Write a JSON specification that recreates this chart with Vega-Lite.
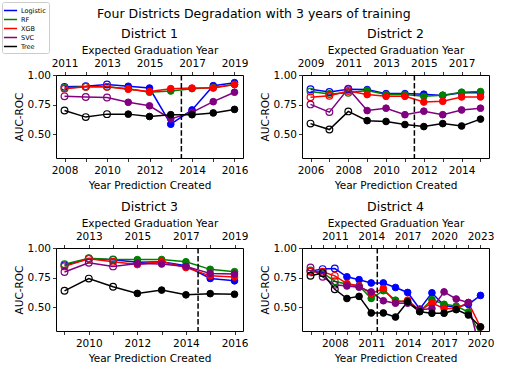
{
"$schema":"https://vega.github.io/schema/vega-lite/v6.json",
"padding":1,
"title":{"text":"Four Districts Degradation with 3 years of training","anchor":"middle","fontSize":12.5,"fontWeight":"normal","font":"DejaVu Sans","color":"black","offset":-19,"dx":6},
"datasets":{
"auc":[
{"d":1,"m":"Logistic","yr":2008,"auc":0.90},{"d":1,"m":"Logistic","yr":2009,"auc":0.905},{"d":1,"m":"Logistic","yr":2010,"auc":0.92},{"d":1,"m":"Logistic","yr":2011,"auc":0.905},{"d":1,"m":"Logistic","yr":2012,"auc":0.89},{"d":1,"m":"Logistic","yr":2013,"auc":0.585},{"d":1,"m":"Logistic","yr":2014,"auc":0.705},{"d":1,"m":"Logistic","yr":2015,"auc":0.91},{"d":1,"m":"Logistic","yr":2016,"auc":0.935},
{"d":1,"m":"RF","yr":2008,"auc":0.89},{"d":1,"m":"RF","yr":2009,"auc":0.90},{"d":1,"m":"RF","yr":2010,"auc":0.90},{"d":1,"m":"RF","yr":2011,"auc":0.885},{"d":1,"m":"RF","yr":2012,"auc":0.855},{"d":1,"m":"RF","yr":2013,"auc":0.865},{"d":1,"m":"RF","yr":2014,"auc":0.885},{"d":1,"m":"RF","yr":2015,"auc":0.895},{"d":1,"m":"RF","yr":2016,"auc":0.92},
{"d":1,"m":"XGB","yr":2008,"auc":0.885},{"d":1,"m":"XGB","yr":2009,"auc":0.90},{"d":1,"m":"XGB","yr":2010,"auc":0.90},{"d":1,"m":"XGB","yr":2011,"auc":0.88},{"d":1,"m":"XGB","yr":2012,"auc":0.86},{"d":1,"m":"XGB","yr":2013,"auc":0.885},{"d":1,"m":"XGB","yr":2014,"auc":0.89},{"d":1,"m":"XGB","yr":2015,"auc":0.89},{"d":1,"m":"XGB","yr":2016,"auc":0.92},
{"d":1,"m":"SVC","yr":2008,"auc":0.82},{"d":1,"m":"SVC","yr":2009,"auc":0.815},{"d":1,"m":"SVC","yr":2010,"auc":0.81},{"d":1,"m":"SVC","yr":2011,"auc":0.77},{"d":1,"m":"SVC","yr":2012,"auc":0.74},{"d":1,"m":"SVC","yr":2013,"auc":0.63},{"d":1,"m":"SVC","yr":2014,"auc":0.685},{"d":1,"m":"SVC","yr":2015,"auc":0.775},{"d":1,"m":"SVC","yr":2016,"auc":0.855},
{"d":1,"m":"Tree","yr":2008,"auc":0.70},{"d":1,"m":"Tree","yr":2009,"auc":0.645},{"d":1,"m":"Tree","yr":2010,"auc":0.67},{"d":1,"m":"Tree","yr":2011,"auc":0.67},{"d":1,"m":"Tree","yr":2012,"auc":0.65},{"d":1,"m":"Tree","yr":2013,"auc":0.665},{"d":1,"m":"Tree","yr":2014,"auc":0.665},{"d":1,"m":"Tree","yr":2015,"auc":0.68},{"d":1,"m":"Tree","yr":2016,"auc":0.71},

{"d":2,"m":"Logistic","yr":2006,"auc":0.88},{"d":2,"m":"Logistic","yr":2007,"auc":0.857},{"d":2,"m":"Logistic","yr":2008,"auc":0.88},{"d":2,"m":"Logistic","yr":2009,"auc":0.877},{"d":2,"m":"Logistic","yr":2010,"auc":0.843},{"d":2,"m":"Logistic","yr":2011,"auc":0.843},{"d":2,"m":"Logistic","yr":2012,"auc":0.838},{"d":2,"m":"Logistic","yr":2013,"auc":0.828},{"d":2,"m":"Logistic","yr":2014,"auc":0.85},{"d":2,"m":"Logistic","yr":2015,"auc":0.85},
{"d":2,"m":"RF","yr":2006,"auc":0.86},{"d":2,"m":"RF","yr":2007,"auc":0.84},{"d":2,"m":"RF","yr":2008,"auc":0.85},{"d":2,"m":"RF","yr":2009,"auc":0.87},{"d":2,"m":"RF","yr":2010,"auc":0.835},{"d":2,"m":"RF","yr":2011,"auc":0.835},{"d":2,"m":"RF","yr":2012,"auc":0.82},{"d":2,"m":"RF","yr":2013,"auc":0.83},{"d":2,"m":"RF","yr":2014,"auc":0.855},{"d":2,"m":"RF","yr":2015,"auc":0.86},
{"d":2,"m":"XGB","yr":2006,"auc":0.813},{"d":2,"m":"XGB","yr":2007,"auc":0.825},{"d":2,"m":"XGB","yr":2008,"auc":0.865},{"d":2,"m":"XGB","yr":2009,"auc":0.835},{"d":2,"m":"XGB","yr":2010,"auc":0.82},{"d":2,"m":"XGB","yr":2011,"auc":0.82},{"d":2,"m":"XGB","yr":2012,"auc":0.772},{"d":2,"m":"XGB","yr":2013,"auc":0.778},{"d":2,"m":"XGB","yr":2014,"auc":0.815},{"d":2,"m":"XGB","yr":2015,"auc":0.815},
{"d":2,"m":"SVC","yr":2006,"auc":0.752},{"d":2,"m":"SVC","yr":2007,"auc":0.687},{"d":2,"m":"SVC","yr":2008,"auc":0.885},{"d":2,"m":"SVC","yr":2009,"auc":0.70},{"d":2,"m":"SVC","yr":2010,"auc":0.72},{"d":2,"m":"SVC","yr":2011,"auc":0.665},{"d":2,"m":"SVC","yr":2012,"auc":0.695},{"d":2,"m":"SVC","yr":2013,"auc":0.665},{"d":2,"m":"SVC","yr":2014,"auc":0.705},{"d":2,"m":"SVC","yr":2015,"auc":0.72},
{"d":2,"m":"Tree","yr":2006,"auc":0.59},{"d":2,"m":"Tree","yr":2007,"auc":0.54},{"d":2,"m":"Tree","yr":2008,"auc":0.693},{"d":2,"m":"Tree","yr":2009,"auc":0.615},{"d":2,"m":"Tree","yr":2010,"auc":0.608},{"d":2,"m":"Tree","yr":2011,"auc":0.582},{"d":2,"m":"Tree","yr":2012,"auc":0.565},{"d":2,"m":"Tree","yr":2013,"auc":0.59},{"d":2,"m":"Tree","yr":2014,"auc":0.57},{"d":2,"m":"Tree","yr":2015,"auc":0.628},

{"d":3,"m":"Logistic","yr":2009,"auc":0.855},{"d":3,"m":"Logistic","yr":2010,"auc":0.91},{"d":3,"m":"Logistic","yr":2011,"auc":0.90},{"d":3,"m":"Logistic","yr":2012,"auc":0.88},{"d":3,"m":"Logistic","yr":2013,"auc":0.885},{"d":3,"m":"Logistic","yr":2014,"auc":0.85},{"d":3,"m":"Logistic","yr":2015,"auc":0.743},{"d":3,"m":"Logistic","yr":2016,"auc":0.723},
{"d":3,"m":"RF","yr":2009,"auc":0.864},{"d":3,"m":"RF","yr":2010,"auc":0.913},{"d":3,"m":"RF","yr":2011,"auc":0.904},{"d":3,"m":"RF","yr":2012,"auc":0.902},{"d":3,"m":"RF","yr":2013,"auc":0.903},{"d":3,"m":"RF","yr":2014,"auc":0.884},{"d":3,"m":"RF","yr":2015,"auc":0.82},{"d":3,"m":"RF","yr":2016,"auc":0.80},
{"d":3,"m":"XGB","yr":2009,"auc":0.845},{"d":3,"m":"XGB","yr":2010,"auc":0.91},{"d":3,"m":"XGB","yr":2011,"auc":0.885},{"d":3,"m":"XGB","yr":2012,"auc":0.86},{"d":3,"m":"XGB","yr":2013,"auc":0.885},{"d":3,"m":"XGB","yr":2014,"auc":0.835},{"d":3,"m":"XGB","yr":2015,"auc":0.765},{"d":3,"m":"XGB","yr":2016,"auc":0.755},
{"d":3,"m":"SVC","yr":2009,"auc":0.797},{"d":3,"m":"SVC","yr":2010,"auc":0.875},{"d":3,"m":"SVC","yr":2011,"auc":0.845},{"d":3,"m":"SVC","yr":2012,"auc":0.87},{"d":3,"m":"SVC","yr":2013,"auc":0.865},{"d":3,"m":"SVC","yr":2014,"auc":0.845},{"d":3,"m":"SVC","yr":2015,"auc":0.785},{"d":3,"m":"SVC","yr":2016,"auc":0.78},
{"d":3,"m":"Tree","yr":2009,"auc":0.639},{"d":3,"m":"Tree","yr":2010,"auc":0.742},{"d":3,"m":"Tree","yr":2011,"auc":0.673},{"d":3,"m":"Tree","yr":2012,"auc":0.617},{"d":3,"m":"Tree","yr":2013,"auc":0.645},{"d":3,"m":"Tree","yr":2014,"auc":0.605},{"d":3,"m":"Tree","yr":2015,"auc":0.615},{"d":3,"m":"Tree","yr":2016,"auc":0.61},

{"d":4,"m":"Logistic","yr":2006,"auc":0.805},{"d":4,"m":"Logistic","yr":2007,"auc":0.822},{"d":4,"m":"Logistic","yr":2008,"auc":0.827},{"d":4,"m":"Logistic","yr":2009,"auc":0.757},{"d":4,"m":"Logistic","yr":2010,"auc":0.733},{"d":4,"m":"Logistic","yr":2011,"auc":0.705},{"d":4,"m":"Logistic","yr":2012,"auc":0.705},{"d":4,"m":"Logistic","yr":2013,"auc":0.667},{"d":4,"m":"Logistic","yr":2014,"auc":0.625},{"d":4,"m":"Logistic","yr":2015,"auc":0.485},{"d":4,"m":"Logistic","yr":2016,"auc":0.622},{"d":4,"m":"Logistic","yr":2017,"auc":0.515},{"d":4,"m":"Logistic","yr":2018,"auc":0.50},{"d":4,"m":"Logistic","yr":2019,"auc":0.525},{"d":4,"m":"Logistic","yr":2020,"auc":0.60},
{"d":4,"m":"RF","yr":2006,"auc":0.81},{"d":4,"m":"RF","yr":2007,"auc":0.79},{"d":4,"m":"RF","yr":2008,"auc":0.72},{"d":4,"m":"RF","yr":2009,"auc":0.695},{"d":4,"m":"RF","yr":2010,"auc":0.68},{"d":4,"m":"RF","yr":2011,"auc":0.575},{"d":4,"m":"RF","yr":2012,"auc":0.64},{"d":4,"m":"RF","yr":2013,"auc":0.56},{"d":4,"m":"RF","yr":2014,"auc":0.54},{"d":4,"m":"RF","yr":2015,"auc":0.465},{"d":4,"m":"RF","yr":2016,"auc":0.565},{"d":4,"m":"RF","yr":2017,"auc":0.525},{"d":4,"m":"RF","yr":2018,"auc":0.51},{"d":4,"m":"RF","yr":2019,"auc":0.46},{"d":4,"m":"RF","yr":2020,"auc":0.27},
{"d":4,"m":"XGB","yr":2006,"auc":0.80},{"d":4,"m":"XGB","yr":2007,"auc":0.80},{"d":4,"m":"XGB","yr":2008,"auc":0.765},{"d":4,"m":"XGB","yr":2009,"auc":0.70},{"d":4,"m":"XGB","yr":2010,"auc":0.68},{"d":4,"m":"XGB","yr":2011,"auc":0.615},{"d":4,"m":"XGB","yr":2012,"auc":0.658},{"d":4,"m":"XGB","yr":2013,"auc":0.54},{"d":4,"m":"XGB","yr":2014,"auc":0.56},{"d":4,"m":"XGB","yr":2015,"auc":0.475},{"d":4,"m":"XGB","yr":2016,"auc":0.535},{"d":4,"m":"XGB","yr":2017,"auc":0.49},{"d":4,"m":"XGB","yr":2018,"auc":0.49},{"d":4,"m":"XGB","yr":2019,"auc":0.54},{"d":4,"m":"XGB","yr":2020,"auc":0.334},
{"d":4,"m":"SVC","yr":2006,"auc":0.835},{"d":4,"m":"SVC","yr":2007,"auc":0.757},{"d":4,"m":"SVC","yr":2008,"auc":0.69},{"d":4,"m":"SVC","yr":2009,"auc":0.68},{"d":4,"m":"SVC","yr":2010,"auc":0.67},{"d":4,"m":"SVC","yr":2011,"auc":0.63},{"d":4,"m":"SVC","yr":2012,"auc":0.555},{"d":4,"m":"SVC","yr":2013,"auc":0.535},{"d":4,"m":"SVC","yr":2014,"auc":0.535},{"d":4,"m":"SVC","yr":2015,"auc":0.48},{"d":4,"m":"SVC","yr":2016,"auc":0.49},{"d":4,"m":"SVC","yr":2017,"auc":0.63},{"d":4,"m":"SVC","yr":2018,"auc":0.57},{"d":4,"m":"SVC","yr":2019,"auc":0.54},{"d":4,"m":"SVC","yr":2020,"auc":0.12},
{"d":4,"m":"Tree","yr":2006,"auc":0.766},{"d":4,"m":"Tree","yr":2007,"auc":0.788},{"d":4,"m":"Tree","yr":2008,"auc":0.652},{"d":4,"m":"Tree","yr":2009,"auc":0.574},{"d":4,"m":"Tree","yr":2010,"auc":0.592},{"d":4,"m":"Tree","yr":2011,"auc":0.452},{"d":4,"m":"Tree","yr":2012,"auc":0.452},{"d":4,"m":"Tree","yr":2013,"auc":0.418},{"d":4,"m":"Tree","yr":2014,"auc":0.546},{"d":4,"m":"Tree","yr":2015,"auc":0.463},{"d":4,"m":"Tree","yr":2016,"auc":0.45},{"d":4,"m":"Tree","yr":2017,"auc":0.45},{"d":4,"m":"Tree","yr":2018,"auc":0.48},{"d":4,"m":"Tree","yr":2019,"auc":0.435},{"d":4,"m":"Tree","yr":2020,"auc":0.334}
],
"cut":[{"d":1,"c":2013.5},{"d":2,"c":2011.5},{"d":3,"c":2014.5},{"d":4,"c":2011.5}]
},
"columns":2,
"spacing":{"row":90,"column":59},
"bounds":"flush",
"concat":[
{"width":187,"height":83,"title":{"text":"District 1"},
"layer":[
{"data":{"name":"auc"},"transform":[{"filter":"datum.d==1"}],"mark":{"type":"line","strokeWidth":1.5,"clip":true},
"encoding":{"x":{"field":"yr","type":"quantitative","scale":{"domain":[2007.6,2016.4],"nice":false,"zero":false},"axis":{"title":"Year Prediction Created","labelPadding":4,"titlePadding":4,"values":[2008,2009,2010,2011,2012,2013,2014,2015,2016],"labelExpr":"datum.value%2==0?format(datum.value,'d'):''"}},
"y":{"field":"auc","type":"quantitative","scale":{"domain":[0.3,1],"nice":false,"zero":false},"axis":{"title":"AUC-ROC","values":[0.5,0.75,1],"format":".2f"}},
"color":{"field":"m","type":"nominal","scale":{"domain":["Logistic","RF","XGB","SVC","Tree"],"range":["#0000ff","#008000","#ff0000","#800080","#000000"]},"legend":{"title":null}}}},
{"data":{"name":"auc"},"transform":[{"filter":"datum.d==1 && datum.yr<=2010"}],"mark":{"type":"point","filled":false,"size":45,"strokeWidth":1.2,"opacity":1,"clip":true},
"encoding":{"x":{"field":"yr","type":"quantitative","scale":{"domain":[2007.6,2016.4],"nice":false,"zero":false},"axis":null},
"y":{"field":"auc","type":"quantitative","scale":{"domain":[0.3,1],"nice":false,"zero":false},"axis":{"title":"AUC-ROC","values":[0.5,0.75,1],"format":".2f"}},
"stroke":{"field":"m","type":"nominal","scale":{"domain":["Logistic","RF","XGB","SVC","Tree"],"range":["#0000ff","#008000","#ff0000","#800080","#000000"]},"legend":null}}},
{"data":{"name":"auc"},"transform":[{"filter":"datum.d==1 && datum.yr>2010"}],"mark":{"type":"point","filled":true,"size":45,"strokeWidth":1,"opacity":1,"clip":true},
"encoding":{"x":{"field":"yr","type":"quantitative","scale":{"domain":[2007.6,2016.4],"nice":false,"zero":false},"axis":null},
"y":{"field":"auc","type":"quantitative","scale":{"domain":[0.3,1],"nice":false,"zero":false},"axis":{"title":"AUC-ROC","values":[0.5,0.75,1],"format":".2f"}},
"fill":{"field":"m","type":"nominal","scale":{"domain":["Logistic","RF","XGB","SVC","Tree"],"range":["#0000ff","#008000","#ff0000","#800080","#000000"]},"legend":null},
"stroke":{"field":"m","type":"nominal","scale":{"domain":["Logistic","RF","XGB","SVC","Tree"],"range":["#0000ff","#008000","#ff0000","#800080","#000000"]},"legend":null}}},
{"data":{"name":"cut"},"transform":[{"filter":"datum.d==1"}],"mark":{"type":"rule","strokeDash":[5.5,2.4],"strokeWidth":1.5,"color":"black"},
"encoding":{"x":{"field":"c","type":"quantitative","scale":{"domain":[2007.6,2016.4],"nice":false,"zero":false},"axis":{"orient":"top","labelPadding":3,"title":"Expected Graduation Year","values":[2008,2009,2010,2011,2012,2013,2014,2015,2016],"labelExpr":"datum.value%2==0?format(datum.value+3,'d'):''"}}}}
],
"resolve":{"axis":{"x":"independent"}}},

{"width":187,"height":83,"title":{"text":"District 2"},
"layer":[
{"data":{"name":"auc"},"transform":[{"filter":"datum.d==2"}],"mark":{"type":"line","strokeWidth":1.5,"clip":true},
"encoding":{"x":{"field":"yr","type":"quantitative","scale":{"domain":[2005.55,2015.45],"nice":false,"zero":false},"axis":{"title":"Year Prediction Created","labelPadding":4,"titlePadding":4,"values":[2006,2007,2008,2009,2010,2011,2012,2013,2014,2015],"labelExpr":"datum.value%2==0?format(datum.value,'d'):''"}},
"y":{"field":"auc","type":"quantitative","scale":{"domain":[0.3,1],"nice":false,"zero":false},"axis":{"title":"AUC-ROC","values":[0.5,0.75,1],"format":".2f"}},
"color":{"field":"m","type":"nominal","scale":{"domain":["Logistic","RF","XGB","SVC","Tree"],"range":["#0000ff","#008000","#ff0000","#800080","#000000"]},"legend":{"title":null}}}},
{"data":{"name":"auc"},"transform":[{"filter":"datum.d==2 && datum.yr<=2008"}],"mark":{"type":"point","filled":false,"size":45,"strokeWidth":1.2,"opacity":1,"clip":true},
"encoding":{"x":{"field":"yr","type":"quantitative","scale":{"domain":[2005.55,2015.45],"nice":false,"zero":false},"axis":null},
"y":{"field":"auc","type":"quantitative","scale":{"domain":[0.3,1],"nice":false,"zero":false},"axis":{"title":"AUC-ROC","values":[0.5,0.75,1],"format":".2f"}},
"stroke":{"field":"m","type":"nominal","scale":{"domain":["Logistic","RF","XGB","SVC","Tree"],"range":["#0000ff","#008000","#ff0000","#800080","#000000"]},"legend":null}}},
{"data":{"name":"auc"},"transform":[{"filter":"datum.d==2 && datum.yr>2008"}],"mark":{"type":"point","filled":true,"size":45,"strokeWidth":1,"opacity":1,"clip":true},
"encoding":{"x":{"field":"yr","type":"quantitative","scale":{"domain":[2005.55,2015.45],"nice":false,"zero":false},"axis":null},
"y":{"field":"auc","type":"quantitative","scale":{"domain":[0.3,1],"nice":false,"zero":false},"axis":{"title":"AUC-ROC","values":[0.5,0.75,1],"format":".2f"}},
"fill":{"field":"m","type":"nominal","scale":{"domain":["Logistic","RF","XGB","SVC","Tree"],"range":["#0000ff","#008000","#ff0000","#800080","#000000"]},"legend":null},
"stroke":{"field":"m","type":"nominal","scale":{"domain":["Logistic","RF","XGB","SVC","Tree"],"range":["#0000ff","#008000","#ff0000","#800080","#000000"]},"legend":null}}},
{"data":{"name":"cut"},"transform":[{"filter":"datum.d==2"}],"mark":{"type":"rule","strokeDash":[5.5,2.4],"strokeWidth":1.5,"color":"black"},
"encoding":{"x":{"field":"c","type":"quantitative","scale":{"domain":[2005.55,2015.45],"nice":false,"zero":false},"axis":{"orient":"top","labelPadding":3,"title":"Expected Graduation Year","values":[2006,2007,2008,2009,2010,2011,2012,2013,2014,2015],"labelExpr":"datum.value%2==0?format(datum.value+3,'d'):''"}}}}
],
"resolve":{"axis":{"x":"independent"}}},

{"width":187,"height":83,"title":{"text":"District 3"},
"layer":[
{"data":{"name":"auc"},"transform":[{"filter":"datum.d==3"}],"mark":{"type":"line","strokeWidth":1.5,"clip":true},
"encoding":{"x":{"field":"yr","type":"quantitative","scale":{"domain":[2008.65,2016.35],"nice":false,"zero":false},"axis":{"title":"Year Prediction Created","labelPadding":4,"titlePadding":4,"values":[2009,2010,2011,2012,2013,2014,2015,2016],"labelExpr":"datum.value%2==0?format(datum.value,'d'):''"}},
"y":{"field":"auc","type":"quantitative","scale":{"domain":[0.3,1],"nice":false,"zero":false},"axis":{"title":"AUC-ROC","values":[0.5,0.75,1],"format":".2f"}},
"color":{"field":"m","type":"nominal","scale":{"domain":["Logistic","RF","XGB","SVC","Tree"],"range":["#0000ff","#008000","#ff0000","#800080","#000000"]},"legend":{"title":null}}}},
{"data":{"name":"auc"},"transform":[{"filter":"datum.d==3 && datum.yr<=2011"}],"mark":{"type":"point","filled":false,"size":45,"strokeWidth":1.2,"opacity":1,"clip":true},
"encoding":{"x":{"field":"yr","type":"quantitative","scale":{"domain":[2008.65,2016.35],"nice":false,"zero":false},"axis":null},
"y":{"field":"auc","type":"quantitative","scale":{"domain":[0.3,1],"nice":false,"zero":false},"axis":{"title":"AUC-ROC","values":[0.5,0.75,1],"format":".2f"}},
"stroke":{"field":"m","type":"nominal","scale":{"domain":["Logistic","RF","XGB","SVC","Tree"],"range":["#0000ff","#008000","#ff0000","#800080","#000000"]},"legend":null}}},
{"data":{"name":"auc"},"transform":[{"filter":"datum.d==3 && datum.yr>2011"}],"mark":{"type":"point","filled":true,"size":45,"strokeWidth":1,"opacity":1,"clip":true},
"encoding":{"x":{"field":"yr","type":"quantitative","scale":{"domain":[2008.65,2016.35],"nice":false,"zero":false},"axis":null},
"y":{"field":"auc","type":"quantitative","scale":{"domain":[0.3,1],"nice":false,"zero":false},"axis":{"title":"AUC-ROC","values":[0.5,0.75,1],"format":".2f"}},
"fill":{"field":"m","type":"nominal","scale":{"domain":["Logistic","RF","XGB","SVC","Tree"],"range":["#0000ff","#008000","#ff0000","#800080","#000000"]},"legend":null},
"stroke":{"field":"m","type":"nominal","scale":{"domain":["Logistic","RF","XGB","SVC","Tree"],"range":["#0000ff","#008000","#ff0000","#800080","#000000"]},"legend":null}}},
{"data":{"name":"cut"},"transform":[{"filter":"datum.d==3"}],"mark":{"type":"rule","strokeDash":[5.5,2.4],"strokeWidth":1.5,"color":"black"},
"encoding":{"x":{"field":"c","type":"quantitative","scale":{"domain":[2008.65,2016.35],"nice":false,"zero":false},"axis":{"orient":"top","labelPadding":3,"title":"Expected Graduation Year","values":[2009,2010,2011,2012,2013,2014,2015,2016],"labelExpr":"datum.value%2==0?format(datum.value+3,'d'):''"}}}}
],
"resolve":{"axis":{"x":"independent"}}},

{"width":187,"height":83,"title":{"text":"District 4"},
"layer":[
{"data":{"name":"auc"},"transform":[{"filter":"datum.d==4"}],"mark":{"type":"line","strokeWidth":1.5,"clip":true},
"encoding":{"x":{"field":"yr","type":"quantitative","scale":{"domain":[2005.3,2020.7],"nice":false,"zero":false},"axis":{"title":"Year Prediction Created","labelPadding":4,"titlePadding":4,"values":[2006,2007,2008,2009,2010,2011,2012,2013,2014,2015,2016,2017,2018,2019,2020],"labelExpr":"datum.value%3==1?format(datum.value,'d'):''"}},
"y":{"field":"auc","type":"quantitative","scale":{"domain":[0.3,1],"nice":false,"zero":false},"axis":{"title":"AUC-ROC","values":[0.5,0.75,1],"format":".2f"}},
"color":{"field":"m","type":"nominal","scale":{"domain":["Logistic","RF","XGB","SVC","Tree"],"range":["#0000ff","#008000","#ff0000","#800080","#000000"]},"legend":{"title":null}}}},
{"data":{"name":"auc"},"transform":[{"filter":"datum.d==4 && datum.yr<=2008"}],"mark":{"type":"point","filled":false,"size":45,"strokeWidth":1.2,"opacity":1,"clip":true},
"encoding":{"x":{"field":"yr","type":"quantitative","scale":{"domain":[2005.3,2020.7],"nice":false,"zero":false},"axis":null},
"y":{"field":"auc","type":"quantitative","scale":{"domain":[0.3,1],"nice":false,"zero":false},"axis":{"title":"AUC-ROC","values":[0.5,0.75,1],"format":".2f"}},
"stroke":{"field":"m","type":"nominal","scale":{"domain":["Logistic","RF","XGB","SVC","Tree"],"range":["#0000ff","#008000","#ff0000","#800080","#000000"]},"legend":null}}},
{"data":{"name":"auc"},"transform":[{"filter":"datum.d==4 && datum.yr>2008"}],"mark":{"type":"point","filled":true,"size":45,"strokeWidth":1,"opacity":1,"clip":true},
"encoding":{"x":{"field":"yr","type":"quantitative","scale":{"domain":[2005.3,2020.7],"nice":false,"zero":false},"axis":null},
"y":{"field":"auc","type":"quantitative","scale":{"domain":[0.3,1],"nice":false,"zero":false},"axis":{"title":"AUC-ROC","values":[0.5,0.75,1],"format":".2f"}},
"fill":{"field":"m","type":"nominal","scale":{"domain":["Logistic","RF","XGB","SVC","Tree"],"range":["#0000ff","#008000","#ff0000","#800080","#000000"]},"legend":null},
"stroke":{"field":"m","type":"nominal","scale":{"domain":["Logistic","RF","XGB","SVC","Tree"],"range":["#0000ff","#008000","#ff0000","#800080","#000000"]},"legend":null}}},
{"data":{"name":"cut"},"transform":[{"filter":"datum.d==4"}],"mark":{"type":"rule","strokeDash":[5.5,2.4],"strokeWidth":1.5,"color":"black"},
"encoding":{"x":{"field":"c","type":"quantitative","scale":{"domain":[2005.3,2020.7],"nice":false,"zero":false},"axis":{"orient":"top","labelPadding":3,"title":"Expected Graduation Year","values":[2006,2007,2008,2009,2010,2011,2012,2013,2014,2015,2016,2017,2018,2019,2020],"labelExpr":"datum.value%3==1?format(datum.value+3,'d'):''"}}}}
],
"resolve":{"axis":{"x":"independent"}}}
],
"config":{
"font":"DejaVu Sans",
"background":"white",
"view":{"stroke":"black","strokeWidth":1},
"axis":{"domain":false,"grid":false,"tickColor":"black","tickSize":3.5,"tickWidth":0.8,"labelFont":"DejaVu Sans","labelFontSize":10.5,"labelColor":"black","labelFlush":false,"labelPadding":2,"titleFont":"DejaVu Sans","titleFontSize":10.5,"titleFontWeight":"normal","titleColor":"black","titlePadding":3},
"title":{"font":"DejaVu Sans","fontSize":12.5,"fontWeight":"normal","color":"black","offset":5},
"legend":{"orient":"none","legendX":-54,"legendY":-73,"symbolType":"M-1.4,0L1.4,0","symbolStrokeWidth":1.5,"symbolSize":88,"labelFont":"DejaVu Sans","labelFontSize":6.5,"labelColor":"black","rowPadding":0,"padding":3,"strokeColor":"#cccccc","cornerRadius":2,"fillColor":"white","labelOffset":5}
}
}
